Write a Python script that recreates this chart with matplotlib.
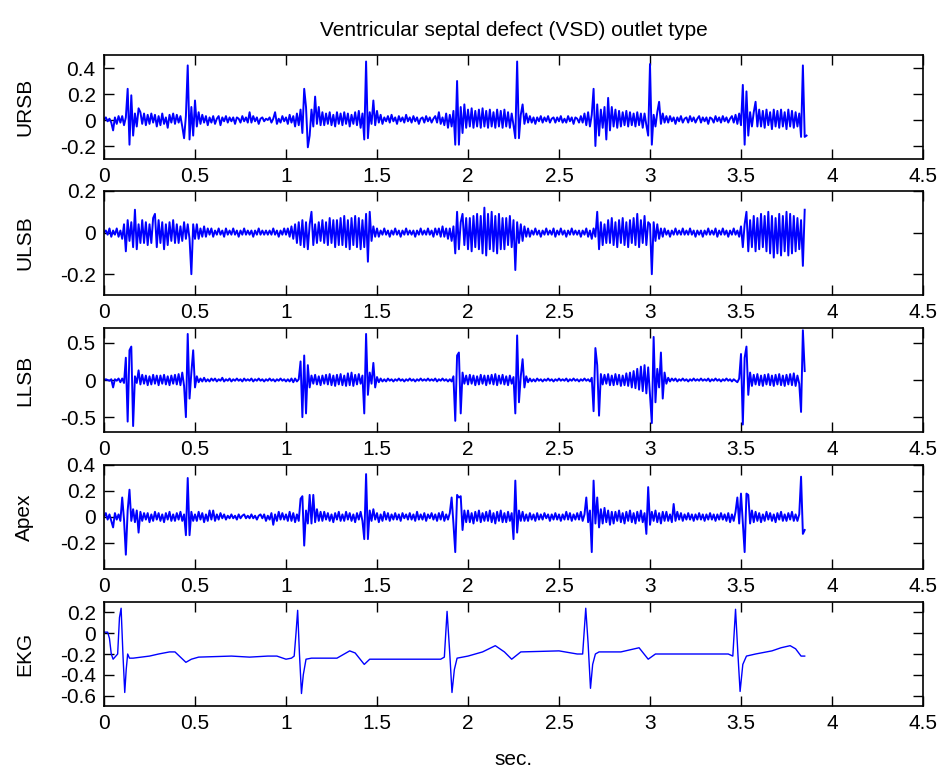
import numpy as np
import matplotlib
matplotlib.use("Agg")
import matplotlib.pyplot as plt
from matplotlib.ticker import FuncFormatter

plt.rcParams['font.family'] = ['Liberation Sans', 'DejaVu Sans']
plt.rcParams['axes.unicode_minus'] = False

DT = 0.01

URSB = [
    0, 0.02, -0.01, 0.01, -0.02, -0.08, 0.02, -0.03, 0.03, -0.02,
    0.03, -0.04, 0.02, 0.24, -0.19, 0.19, -0.12, 0.05, -0.05, 0.09,
    0.06, -0.03, 0.05, -0.04, 0.04, -0.03, 0.05, -0.02, 0.04, -0.05,
    0.03, -0.04, 0.05, -0.03, 0.02, -0.06, 0.04, -0.02, 0.05, -0.03,
    0.04, -0.02, 0.03, -0.05, -0.14, 0.03, 0.42, -0.15, 0.1, -0.12,
    0.15, -0.05, 0.06, -0.03, 0.04, -0.02, 0.03, -0.04, 0.02, -0.02,
    0.03, -0.03, 0.01, 0.03, -0.04, 0.02, -0.01, 0.03, -0.02, 0.02,
    -0.01, 0.02, -0.03, 0.02, 0.01, -0.02, 0.03, -0.01, 0.02, -0.02,
    0.06, -0.02, 0.03, -0.01, 0.02, -0.03, 0.01, 0.02, -0.01, 0.01,
    0.0, 0.02, -0.02, 0.01, 0.06, -0.03, 0.01, -0.02, 0.03, -0.01,
    0.02, -0.03, 0.04, -0.02, 0.03, -0.05, 0.05, -0.04, 0.08, -0.1,
    0.24, 0.1, -0.21, -0.12, 0.08, -0.05, 0.18, -0.03, 0.1, -0.04,
    0.06, -0.04, 0.05, -0.03, 0.06, -0.04, 0.04, -0.05, 0.06, -0.03,
    0.05, -0.04, 0.06, -0.03, 0.05, -0.05, 0.04, -0.03, 0.06, -0.04,
    0.07, -0.06, 0.05, -0.15, 0.45, -0.14, 0.06, -0.03, 0.15, -0.04,
    0.07, -0.02, 0.04, -0.03, 0.02, -0.01, 0.03, -0.02, 0.04, -0.01,
    0.02, -0.03, 0.03, -0.01, 0.02, -0.02, 0.04, -0.01, 0.02, -0.02,
    0.03, -0.01, 0.02, -0.03, 0.01, 0.02, -0.02, 0.03, -0.01, 0.02,
    -0.02, 0.01, 0.03, -0.02, 0.06, -0.03, 0.02, -0.04, 0.05, -0.06,
    0.04, -0.05, 0.07, -0.19, 0.3, -0.19, 0.1, -0.1, 0.12, -0.06,
    0.08, -0.05, 0.09, -0.06, 0.07, -0.05, 0.08, -0.06, 0.09, -0.05,
    0.07, -0.06, 0.08, -0.05, 0.06, -0.06, 0.08, -0.05, 0.07, -0.06,
    0.08, -0.05, 0.06, -0.06, 0.05, -0.04, -0.14, 0.45, -0.14, 0.04,
    0.12, -0.03, 0.05, -0.02, 0.03, -0.02, 0.02, -0.03, 0.02, -0.01,
    0.03, -0.02, 0.02, -0.01, 0.03, -0.02, 0.01, 0.02, -0.02, 0.02,
    -0.01, 0.03, -0.02, 0.01, -0.02, 0.03, -0.01, 0.02, -0.03, 0.02,
    0.01, -0.02, 0.03, -0.02, 0.05, -0.04, 0.06, -0.05, 0.04, 0.24,
    -0.2, 0.12, -0.12, 0.08, -0.06, 0.1, -0.15, 0.17, -0.08, 0.1,
    -0.05, 0.08, -0.06, 0.07, -0.05, 0.06, -0.04, 0.07, -0.05, 0.06,
    -0.04, 0.05, -0.05, 0.06, -0.04, 0.05, -0.06, 0.05, -0.04, -0.12,
    0.43, -0.19, 0.04, -0.05, 0.06, 0.14, -0.03, 0.05, -0.02, 0.03,
    -0.02, 0.03, -0.01, 0.02, -0.03, 0.02, -0.01, 0.03, -0.02, 0.01,
    0.02, -0.02, 0.03, -0.01, 0.02, -0.02, 0.01, 0.03, -0.02, 0.02,
    -0.01, 0.02, -0.03, 0.02, 0.01, -0.02, 0.03, -0.01, 0.02, -0.02,
    0.03, -0.01, 0.02, -0.02, 0.01, 0.03, -0.02, 0.04, -0.03, 0.05,
    -0.04, 0.27, -0.19, 0.22, -0.12, 0.06, -0.05, 0.06, 0.14, -0.05,
    0.08, -0.05, 0.07, -0.06, 0.08, -0.04, 0.06, -0.07, 0.08, -0.05,
    0.07, -0.06, 0.08, -0.05, 0.06, -0.07, 0.08, -0.05, 0.07, -0.06,
    0.06, -0.05, 0.05, -0.13, 0.42, -0.13, -0.12,
]

ULSB = [
    0, 0.01, -0.01, 0.02, -0.02, 0.01, -0.01, 0.02, -0.02, 0.01,
    -0.03, 0.04, -0.09, 0.06, -0.04, 0.05, -0.07, 0.11, -0.08, 0.04,
    -0.05, 0.06, -0.05, 0.05, -0.06, 0.04, -0.05, 0.07, 0.09, -0.07,
    0.06, -0.05, 0.05, -0.08, 0.04, -0.06, 0.05, -0.04, 0.06, -0.05,
    0.04, -0.05, 0.03, -0.04, 0.05, -0.03, 0.04, -0.03, -0.2, 0.04,
    -0.03, 0.04, -0.03, 0.02, -0.02, 0.03, -0.02, 0.02, -0.01, 0.02,
    -0.02, 0.01, -0.01, 0.02, -0.01, 0.01, -0.02, 0.02, -0.01, 0.01,
    -0.01, 0.02, -0.01, 0.01, -0.02, 0.01, -0.01, 0.02, -0.01, 0.01,
    -0.01, 0.01, -0.02, 0.01, -0.01, 0.02, -0.01, 0.01, -0.01, 0.01,
    -0.01, 0.01, -0.01, 0.02, -0.01, 0.01, -0.02, 0.01, -0.01, 0.02,
    -0.01, 0.02, -0.02, 0.03, -0.03, 0.04, -0.05, 0.05, -0.06, 0.06,
    -0.07, 0.05, -0.08, 0.04, 0.1, -0.06, 0.04, -0.05, 0.05, -0.04,
    0.06, -0.05, 0.05, -0.06, 0.07, -0.05, 0.06, -0.07, 0.06, -0.06,
    0.07, -0.06, 0.08, -0.07, 0.06, -0.08, 0.07, -0.06, 0.08, -0.07,
    0.07, -0.08, 0.06, -0.07, 0.09, -0.14, 0.1, -0.04, 0.03, -0.02,
    0.02, -0.02, 0.01, -0.01, 0.02, -0.01, 0.01, -0.02, 0.01, -0.01,
    0.02, -0.01, 0.01, -0.02, 0.01, -0.01, 0.02, -0.01, 0.01, -0.01,
    0.01, -0.02, 0.01, -0.01, 0.02, -0.01, 0.01, -0.01, 0.02, -0.01,
    0.01, -0.02, 0.02, -0.01, 0.02, -0.02, 0.03, -0.02, 0.02, -0.03,
    0.02, -0.04, 0.03, -0.1, 0.1, -0.08, 0.05, 0.09, -0.06, 0.07,
    -0.08, 0.07, -0.09, 0.08, -0.07, 0.09, -0.08, 0.08, -0.1, 0.12,
    -0.11, 0.09, -0.08, 0.1, -0.09, 0.08, -0.1, 0.09, -0.08, 0.07,
    -0.08, 0.07, -0.06, 0.08, -0.07, 0.06, -0.18, 0.05, -0.05, 0.04,
    -0.04, 0.03, -0.02, 0.02, -0.02, 0.01, -0.01, 0.02, -0.01, 0.01,
    -0.02, 0.01, -0.01, 0.02, -0.01, 0.01, -0.01, 0.02, -0.02, 0.01,
    -0.01, 0.02, -0.01, 0.01, -0.02, 0.01, -0.01, 0.02, -0.01, 0.01,
    -0.01, 0.01, -0.02, 0.01, -0.01, 0.02, -0.02, 0.01, -0.03, 0.02,
    -0.02, 0.1, -0.08, 0.05, -0.06, 0.04, -0.05, 0.06, -0.05, 0.07,
    -0.06, 0.05, -0.07, 0.06, -0.05, 0.07, -0.06, 0.05, -0.07, 0.06,
    -0.05, 0.07, -0.06, 0.09, -0.07, 0.06, -0.05, 0.08, -0.06, 0.05,
    0.04, -0.2, 0.05, -0.04, 0.04, -0.03, 0.02, -0.02, 0.02, -0.01,
    0.01, -0.02, 0.01, -0.01, 0.02, -0.01, 0.01, -0.01, 0.02, -0.01,
    0.01, -0.01, 0.02, -0.01, 0.01, -0.02, 0.01, -0.01, 0.01, -0.02,
    0.01, -0.01, 0.02, -0.01, 0.01, -0.01, 0.02, -0.02, 0.01, -0.01,
    0.02, -0.01, 0.01, -0.02, 0.01, -0.01, 0.02, -0.01, 0.01, -0.02,
    0.03, -0.07, 0.04, 0.1, -0.09, 0.06, -0.07, 0.08, -0.09, 0.07,
    -0.08, 0.09, -0.07, 0.08, -0.09, 0.1, -0.1, 0.08, -0.12, 0.07,
    -0.1, 0.09, -0.11, 0.08, -0.09, 0.1, -0.11, 0.09, -0.1, 0.08,
    -0.09, 0.07, -0.08, 0.06, -0.16, 0.11,
]

LLSB = [
    0, 0.01, 0, -0.01, 0.01, -0.1, 0.01, -0.01, 0.02, -0.03,
    0.02, -0.04, 0.3, -0.56, 0.4, 0.45, -0.62, 0.05, -0.04, 0.13,
    -0.06, 0.07, -0.05, 0.06, -0.07, 0.05, -0.06, 0.07, -0.05, 0.06,
    -0.07, 0.06, -0.05, 0.07, -0.06, 0.05, -0.07, 0.06, -0.05, 0.07,
    -0.06, 0.08, -0.07, 0.1, -0.08, -0.5, 0.62, -0.25, 0.1, 0.4,
    -0.1, 0.05, -0.03, 0.02, -0.02, 0.03, -0.02, 0.01, -0.02, 0.02,
    -0.01, 0.02, -0.02, 0.01, -0.01, 0.03, -0.02, 0.01, -0.01, 0.02,
    -0.02, 0.01, -0.01, 0.02, -0.01, 0.01, -0.02, 0.02, -0.01, 0.01,
    -0.01, 0.02, -0.02, 0.01, -0.01, 0.02, -0.01, 0.01, -0.02, 0.01,
    -0.01, 0.02, -0.01, 0.01, -0.02, 0.01, -0.01, 0.02, -0.01, 0.01,
    -0.02, 0.01, -0.02, 0.02, -0.03, 0.02, -0.02, 0.01, 0.25, -0.5,
    0.33, -0.45, 0.2, -0.1, 0.06, -0.05, 0.07, -0.06, 0.05, -0.07,
    0.06, -0.05, 0.07, -0.06, 0.08, -0.07, 0.06, -0.08, 0.07, -0.06,
    0.08, -0.07, 0.06, -0.08, 0.09, -0.07, 0.1, -0.08, 0.07, -0.06,
    0.08, -0.05, 0.06, -0.45, 0.62, -0.2, 0.1, -0.05, 0.23, -0.1,
    0.04, -0.03, 0.02, -0.02, 0.01, -0.02, 0.02, -0.01, 0.01, -0.02,
    0.01, -0.01, 0.02, -0.01, 0.01, -0.02, 0.01, -0.01, 0.02, -0.01,
    0.01, -0.02, 0.01, -0.01, 0.02, -0.01, 0.01, -0.01, 0.02, -0.01,
    0.01, -0.01, 0.02, -0.02, 0.01, -0.01, 0.02, -0.01, 0.01, -0.02,
    0.01, -0.02, 0.05, -0.55, 0.33, 0.37, -0.45, 0.1, -0.05, 0.06,
    -0.06, 0.07, -0.05, 0.06, -0.07, 0.05, -0.06, 0.07, -0.05, 0.06,
    -0.07, 0.06, -0.05, 0.07, -0.06, 0.08, -0.07, 0.06, -0.05, 0.07,
    -0.06, 0.05, -0.07, 0.06, -0.05, 0.04, -0.45, 0.6, -0.3, 0.05,
    0.28, -0.1, 0.05, -0.03, 0.02, -0.02, 0.01, -0.02, 0.02, -0.01,
    0.01, -0.02, 0.01, -0.01, 0.02, -0.01, 0.01, -0.02, 0.01, -0.01,
    0.02, -0.01, 0.01, -0.01, 0.02, -0.02, 0.01, -0.01, 0.02, -0.01,
    0.01, -0.02, 0.01, -0.01, 0.02, -0.01, 0.01, -0.02, 0.03, -0.42,
    0.43, 0.2, -0.48, 0.08, -0.06, 0.07, -0.05, 0.08, -0.07, 0.06,
    -0.07, 0.08, -0.06, 0.07, -0.08, 0.06, -0.07, 0.09, -0.08, 0.1,
    -0.1, 0.12, -0.11, 0.15, -0.13, 0.18, -0.15, 0.2, -0.18, 0.17,
    -0.2, -0.58, 0.58, -0.3, 0.15, -0.1, 0.37, -0.25, 0.1, -0.05,
    0.03, -0.02, 0.02, -0.01, 0.02, -0.02, 0.01, -0.01, 0.02, -0.01,
    0.01, -0.02, 0.01, -0.01, 0.02, -0.01, 0.01, -0.01, 0.02, -0.01,
    0.01, -0.01, 0.02, -0.02, 0.01, -0.01, 0.02, -0.01, 0.01, -0.02,
    0.01, -0.01, 0.02, -0.01, 0.01, -0.02, 0.01, -0.01, -0.03, 0.02,
    0.35, -0.6, 0.3, 0.45, -0.2, 0.1, -0.08, 0.07, -0.06, 0.08,
    -0.07, 0.06, -0.08, 0.07, -0.06, 0.08, -0.07, 0.06, -0.08, 0.07,
    -0.06, 0.08, -0.07, 0.06, -0.08, 0.07, -0.06, 0.08, -0.07, 0.09,
    -0.08, 0.06, -0.05, -0.43, 0.67, 0.12,
]

APEX = [
    0, 0.03, -0.02, 0.02, -0.03, -0.08, 0.03, -0.02, 0.02, -0.03,
    0.15, -0.02, -0.29, 0.05, 0.21, -0.03, 0.06, -0.04, 0.05, -0.12,
    0.04, -0.03, 0.03, -0.02, 0.03, -0.04, 0.02, -0.03, 0.04, -0.02,
    0.03, -0.03, 0.02, -0.04, 0.03, -0.02, 0.04, -0.03, 0.02, -0.03,
    0.03, -0.02, 0.04, -0.03, 0.02, -0.14, 0.3, -0.14, 0.04, -0.03,
    0.02, -0.03, 0.04, -0.02, 0.03, -0.04, 0.02, -0.03, 0.05, -0.02,
    0.05, -0.03, 0.02, -0.02, 0.03, -0.01, 0.02, -0.02, 0.01, -0.01,
    0.02, -0.01, 0.01, -0.02, 0.02, -0.01, 0.01, 0.02, -0.01, 0.01,
    -0.01, 0.02, -0.01, 0.01, -0.02, 0.01, 0.02, -0.01, 0.02, -0.03,
    0.01, -0.02, 0.03, -0.06, 0.02, -0.03, 0.04, -0.02, 0.03, -0.02,
    0.02, -0.03, 0.04, -0.03, 0.03, -0.04, 0.02, -0.03, 0.14, 0.16,
    -0.22, 0.05, -0.05, 0.17, -0.05, 0.17, -0.04, 0.06, -0.03, 0.04,
    -0.03, 0.04, -0.02, 0.03, -0.03, 0.02, -0.04, 0.03, -0.02, 0.04,
    -0.03, 0.02, -0.03, 0.04, -0.02, 0.03, -0.03, 0.02, -0.04, 0.03,
    -0.02, 0.04, -0.03, -0.17, 0.33, -0.17, 0.05, -0.03, 0.06, -0.02,
    0.03, -0.04, 0.02, -0.03, 0.04, -0.02, 0.03, -0.03, 0.02, -0.02,
    0.03, -0.02, 0.02, -0.03, 0.03, -0.01, 0.02, -0.02, 0.03, -0.02,
    0.02, -0.03, 0.04, -0.02, 0.02, -0.02, 0.03, -0.03, 0.02, -0.01,
    0.03, -0.02, 0.02, -0.03, 0.03, -0.02, 0.04, -0.03, 0.02, -0.02,
    0.03, 0.15, -0.05, -0.27, 0.17, 0.15, 0.16, -0.1, 0.05, -0.04,
    0.05, -0.04, 0.03, -0.05, 0.04, -0.03, 0.05, -0.04, 0.03, -0.03,
    0.04, -0.03, 0.05, -0.04, 0.03, -0.05, 0.04, -0.03, 0.05, -0.04,
    0.03, -0.04, 0.04, -0.03, 0.03, -0.17, 0.28, -0.12, 0.05, -0.03,
    0.04, -0.03, 0.02, -0.03, 0.03, -0.02, 0.02, -0.03, 0.03, -0.02,
    0.02, -0.02, 0.03, -0.01, 0.02, -0.03, 0.02, -0.02, 0.03, -0.02,
    0.02, -0.03, 0.02, -0.02, 0.04, -0.02, 0.03, -0.03, 0.02, -0.02,
    0.03, -0.02, 0.04, -0.03, 0.02, 0.15, -0.04, 0.05, -0.27, 0.28,
    -0.05, 0.15, -0.08, 0.06, -0.05, 0.07, -0.04, 0.05, -0.06, 0.04,
    -0.05, 0.04, -0.03, 0.05, -0.04, 0.03, -0.05, 0.04, -0.03, 0.05,
    -0.04, 0.03, -0.05, 0.04, -0.03, 0.05, -0.04, 0.03, -0.13, 0.23,
    -0.06, 0.04, -0.03, 0.05, -0.04, 0.03, -0.05, 0.04, -0.03, 0.04,
    -0.03, 0.02, -0.04, 0.1, -0.03, 0.04, -0.02, 0.03, -0.03, 0.02,
    -0.02, 0.03, -0.02, 0.02, -0.03, 0.02, -0.02, 0.03, -0.02, 0.02,
    -0.03, 0.02, -0.02, 0.03, -0.02, 0.02, -0.03, 0.02, -0.02, 0.03,
    -0.02, 0.02, -0.03, 0.03, -0.04, 0.02, -0.03, 0.04, 0.15, -0.05,
    0.18, -0.05, -0.27, 0.18, 0.17, -0.05, 0.05, -0.04, 0.04, -0.03,
    0.03, -0.04, 0.02, -0.03, 0.04, -0.02, 0.03, -0.03, 0.02, -0.04,
    0.03, -0.02, 0.04, -0.03, 0.02, -0.03, 0.03, -0.02, 0.04, -0.03,
    0.02, -0.03, 0.02, 0.31, -0.13, -0.1,
]

EKG_T = [0, 0.02, 0.03, 0.04, 0.05, 0.06, 0.075, 0.085, 0.094, 0.104, 0.114,
         0.122, 0.13, 0.14, 0.16, 0.25, 0.3, 0.36, 0.39, 0.42, 0.45, 0.48, 0.52,
         0.7, 0.8, 0.9, 0.95, 1.0, 1.03, 1.045, 1.055, 1.064, 1.074, 1.085,
         1.095, 1.11, 1.14, 1.28, 1.35, 1.38, 1.43, 1.46, 1.85, 1.87, 1.885,
         1.9, 1.912, 1.925, 1.94, 2.0, 2.08, 2.15, 2.2, 2.24, 2.29, 2.5, 2.6,
         2.63, 2.647, 2.66, 2.673, 2.685, 2.7, 2.72, 2.84, 2.94, 2.99, 3.03,
         3.43, 3.455, 3.47, 3.483, 3.495, 3.51, 3.53, 3.58, 3.67, 3.72, 3.77,
         3.8, 3.83, 3.85]
EKG_V = [0.01, 0.01, -0.05, -0.2, -0.25, -0.23, -0.2, 0.15, 0.24, -0.2, -0.57,
         -0.35, -0.2, -0.24, -0.24, -0.22, -0.2, -0.18, -0.18, -0.23, -0.28,
         -0.25, -0.23, -0.22, -0.23, -0.22, -0.22, -0.25, -0.24, -0.22, 0.0,
         0.22, -0.2, -0.58, -0.4, -0.25, -0.24, -0.24, -0.17, -0.19, -0.3,
         -0.25, -0.25, -0.23, 0.21, -0.2, -0.57, -0.35, -0.24, -0.22, -0.18,
         -0.12, -0.18, -0.25, -0.18, -0.17, -0.2, -0.2, 0.24, -0.1, -0.53,
         -0.3, -0.2, -0.18, -0.18, -0.14, -0.25, -0.2, -0.2, -0.22, 0.23,
         -0.2, -0.56, -0.3, -0.22, -0.2, -0.17, -0.14, -0.12, -0.15, -0.22,
         -0.22]

LABELS = ["URSB", "ULSB", "LLSB", "Apex", "EKG"]
YLIMS = [(-0.3, 0.5), (-0.3, 0.2), (-0.7, 0.7), (-0.4, 0.4), (-0.7, 0.3)]
YTICKS = [[-0.2, 0, 0.2, 0.4], [-0.2, 0, 0.2], [-0.5, 0, 0.5],
          [-0.2, 0, 0.2, 0.4], [-0.6, -0.4, -0.2, 0, 0.2]]
XTICKS = [0, 0.5, 1, 1.5, 2, 2.5, 3, 3.5, 4, 4.5]
TITLE = "Ventricular septal defect (VSD) outlet type"
XLABEL = "sec."

series = [URSB, ULSB, LLSB, APEX]

fig = plt.figure(figsize=(9.45, 7.69), dpi=100)
W, H = 945, 769
tops = [55, 191, 328, 465, 602]
ax_h = 104
left, right = 104, 923

def fmt(v, pos):
    return '%g' % round(v, 3)

axes = []
for k in range(5):
    ax = fig.add_axes([left / W, 1 - (tops[k] + ax_h) / H, (right - left) / W, ax_h / H])
    if k < 4:
        y = np.array(series[k])
        t = np.arange(len(y)) * DT
        ax.plot(t, y, color='#0000ff', lw=1.4)
    else:
        ax.plot(EKG_T, EKG_V, color='#0000ff', lw=1.0)
    ax.set_xlim(0, 4.5)
    ax.set_ylim(*YLIMS[k])
    ax.set_xticks(XTICKS)
    ax.set_yticks(YTICKS[k])
    ax.xaxis.set_major_formatter(FuncFormatter(fmt))
    ax.yaxis.set_major_formatter(FuncFormatter(fmt))
    ax.tick_params(direction='in', length=7, width=1, top=True, right=True,
                   labelsize=15, pad=6, colors='black')
    for sp in ax.spines.values():
        sp.set_linewidth(1.2)
    ax.set_ylabel(LABELS[k], fontsize=15)
    axes.append(ax)

axes[0].set_title(TITLE, fontsize=15, pad=14)
axes[-1].set_xlabel(XLABEL, fontsize=15, labelpad=12)
for ax in axes:
    ax.yaxis.set_label_coords(-0.085, 0.5)

fig.savefig("out.png", dpi=100)
